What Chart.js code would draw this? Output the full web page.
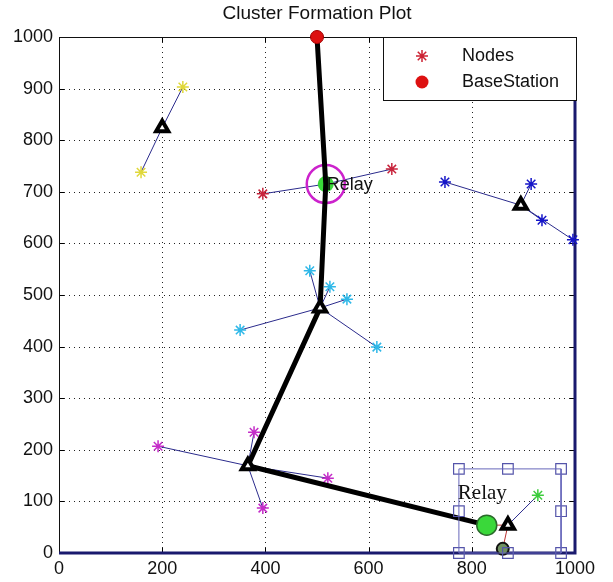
<!DOCTYPE html>
<html>
<head>
<meta charset="utf-8">
<title>Cluster Formation Plot</title>
<script src="https://cdn.jsdelivr.net/npm/chart.js@4.4.0/dist/chart.umd.min.js"></script>
<style>
    html, body { margin: 0; padding: 0; background: #fff; }
    canvas { display: block; }
</style>
</head>
<body>
<canvas id="cluster-chart" width="613" height="582"></canvas>
<script>
// axis ticks
const xTicks = [0, 200, 400, 600, 800, 1000];
const yTicks = [0, 100, 200, 300, 400, 500, 600, 700, 800, 900, 1000];

// sink + relays
const baseStation = [{ x: 500, y: 1000 }];
const topRelay = [{ x: 517, y: 715 }];
const bottomRelay = [{ x: 829, y: 54 }];
const sinkNode = [{ x: 860, y: 8 }];

// clusters: head + member nodes
const yellowHead = [{ x: 200, y: 824 }];
const yellowNodes = [{ x: 240, y: 903 }, { x: 159, y: 738 }];
const redNodes = [{ x: 395, y: 696 }, { x: 645, y: 744 }];
const blueHead = [{ x: 895, y: 674 }];
const blueNodes = [{ x: 748, y: 719 }, { x: 915, y: 715 }, { x: 936, y: 645 }, { x: 996, y: 607 }];
const cyanHead = [{ x: 506, y: 475 }];
const cyanNodes = [{ x: 486, y: 547 }, { x: 525, y: 516 }, { x: 558, y: 492 }, { x: 351, y: 432 }, { x: 616, y: 399 }];
const magentaHead = [{ x: 366, y: 169 }];
const magentaNodes = [{ x: 192, y: 207 }, { x: 378, y: 234 }, { x: 521, y: 145 }, { x: 395, y: 87 }];
const greenHead = [{ x: 870, y: 54 }];
const greenNodes = [{ x: 928, y: 112 }];

// multi-hop route to the base station
const routePath = [baseStation[0], topRelay[0], cyanHead[0], magentaHead[0], bottomRelay[0]];

// figure-editor selection box around the lower relay
const selectionBox = [{ x: 775, y: 163 }, { x: 973, y: 163 }, { x: 973, y: 0 }, { x: 775, y: 0 }, { x: 775, y: 163 }];
const selectionHandles = [
    { x: 775, y: 163 }, { x: 870, y: 163 }, { x: 973, y: 163 },
    { x: 775, y: 81 }, { x: 973, y: 81 },
    { x: 775, y: 0 }, { x: 870, y: 0 }, { x: 973, y: 0 }
];

const relayLabels = [
    { x: 519, y: 713, text: 'Relay', font: '18px Arial, "Liberation Sans", sans-serif' },
    { x: 773, y: 116, text: 'Relay', font: '21px "Times New Roman", "Liberation Serif", serif' }
];

const EDGE_BLUE = '#2b2b8c';
const EDGE_RED = '#b83030';

function edgeSets(head, nodes, color) {
    return nodes.map(n => ({
        data: [head[0], n],
        showLine: true,
        borderColor: color,
        borderWidth: 1,
        pointRadius: 0,
        clip: false,
        order: 6
    }));
}

function markerSet(data, style, color, opts = {}) {
    return Object.assign({
        data: data,
        pointStyle: style,
        pointRadius: 6,
        pointBorderColor: color,
        borderColor: color,
        pointBackgroundColor: color,
        backgroundColor: color,
        pointBorderWidth: 1.5,
        showLine: false,
        clip: false,
        order: 5
    }, opts);
}

function drawStar(ctx, x, y, r, color) {
    ctx.save();
    ctx.strokeStyle = color;
    ctx.lineWidth = 1.5;
    ctx.beginPath();
    ctx.moveTo(x - r, y); ctx.lineTo(x + r, y);
    ctx.moveTo(x, y - r); ctx.lineTo(x, y + r);
    const d = r * Math.SQRT1_2;
    ctx.moveTo(x - d, y - d); ctx.lineTo(x + d, y + d);
    ctx.moveTo(x - d, y + d); ctx.lineTo(x + d, y - d);
    ctx.stroke();
    ctx.restore();
}

const figurePlugin = {
    id: 'figure',
    beforeDatasetsDraw(chart) {
        const { ctx, chartArea: a, scales: { x, y } } = chart;
        ctx.save();
        // dotted grid
        ctx.strokeStyle = '#222';
        ctx.lineWidth = 1;
        ctx.setLineDash([1, 4]);
        xTicks.slice(1, -1).forEach(v => {
            const px = Math.round(x.getPixelForValue(v)) + 0.5;
            ctx.beginPath(); ctx.moveTo(px, a.top); ctx.lineTo(px, a.bottom); ctx.stroke();
        });
        yTicks.slice(1, -1).forEach(v => {
            const py = Math.round(y.getPixelForValue(v)) + 0.5;
            ctx.beginPath(); ctx.moveTo(a.left, py); ctx.lineTo(a.right, py); ctx.stroke();
        });
        ctx.setLineDash([]);

        // inward tick marks
        ctx.strokeStyle = '#000';
        xTicks.forEach(v => {
            const px = Math.round(x.getPixelForValue(v)) + 0.5;
            ctx.beginPath();
            ctx.moveTo(px, a.bottom); ctx.lineTo(px, a.bottom - 5);
            ctx.moveTo(px, a.top); ctx.lineTo(px, a.top + 5);
            ctx.stroke();
        });
        yTicks.forEach(v => {
            const py = Math.round(y.getPixelForValue(v)) + 0.5;
            ctx.beginPath();
            ctx.moveTo(a.left, py); ctx.lineTo(a.left + 5, py);
            ctx.moveTo(a.right, py); ctx.lineTo(a.right - 5, py);
            ctx.stroke();
        });

        // box: black left/top, navy right/bottom
        ctx.strokeStyle = '#111';
        ctx.lineWidth = 1;
        ctx.beginPath();
        ctx.moveTo(a.left + 0.5, a.bottom); ctx.lineTo(a.left + 0.5, a.top + 0.5); ctx.lineTo(a.right, a.top + 0.5);
        ctx.stroke();
        ctx.strokeStyle = '#1a1a6e';
        ctx.lineWidth = 3;
        ctx.beginPath();
        ctx.moveTo(a.left, a.bottom); ctx.lineTo(a.right, a.bottom); ctx.lineTo(a.right, a.top);
        ctx.stroke();
        ctx.restore();
    },
    afterDatasetsDraw(chart) {
        const { ctx, chartArea: a, scales: { x, y } } = chart;
        ctx.save();
        // relay labels
        ctx.fillStyle = '#111';
        ctx.textAlign = 'left';
        ctx.textBaseline = 'middle';
        relayLabels.forEach(l => {
            ctx.font = l.font;
            ctx.fillText(l.text, x.getPixelForValue(l.x), y.getPixelForValue(l.y));
        });

        // title
        ctx.font = '19px Arial, "Liberation Sans", sans-serif';
        ctx.textAlign = 'center';
        ctx.textBaseline = 'alphabetic';
        ctx.fillStyle = '#111';
        ctx.fillText('Cluster Formation Plot', (a.left + a.right) / 2, 19);

        // legend box in the upper right corner
        const lx = 383, ly = a.top, lw = 193, lh = 63;
        ctx.fillStyle = '#fff';
        ctx.fillRect(lx, ly, lw, lh);
        ctx.strokeStyle = '#111';
        ctx.lineWidth = 1;
        ctx.strokeRect(lx + 0.5, ly + 0.5, lw, lh);
        drawStar(ctx, lx + 39, ly + 19, 6, '#cc2233');
        ctx.fillStyle = '#dd1111';
        ctx.beginPath();
        ctx.arc(lx + 39, ly + 45, 6.5, 0, Math.PI * 2);
        ctx.fill();
        ctx.fillStyle = '#111';
        ctx.font = '18px Arial, "Liberation Sans", sans-serif';
        ctx.textAlign = 'left';
        ctx.textBaseline = 'middle';
        ctx.fillText('Nodes', lx + 79, ly + 19);
        ctx.fillText('BaseStation', lx + 79, ly + 45);
        ctx.restore();
    }
};

const datasets = [
    // thin cluster edges
    ...edgeSets(yellowHead, yellowNodes, EDGE_BLUE),
    ...edgeSets(topRelay, redNodes, EDGE_BLUE),
    ...edgeSets(blueHead, blueNodes, EDGE_BLUE),
    ...edgeSets(cyanHead, cyanNodes, EDGE_BLUE),
    ...edgeSets(magentaHead, magentaNodes, EDGE_BLUE),
    ...edgeSets(greenHead, greenNodes, EDGE_BLUE),
    ...edgeSets(greenHead, bottomRelay, EDGE_RED),
    ...edgeSets(greenHead, sinkNode, EDGE_RED),

    // member nodes
    markerSet(yellowNodes, 'star', '#e0d83a'),
    markerSet(redNodes, 'star', '#c8243c'),
    markerSet(blueNodes, 'star', '#1515c8'),
    markerSet(cyanNodes, 'star', '#2fb8e8'),
    markerSet(magentaNodes, 'star', '#c42cc8'),
    markerSet(greenNodes, 'star', '#3ccc3c'),

    // top relay with magenta ring
    markerSet(topRelay, 'circle', '#3ad83a', { pointRadius: 8, pointBorderWidth: 0, order: 4 }),
    markerSet(topRelay, 'circle', '#cc22cc', { pointRadius: 19, pointBorderWidth: 2.5, pointBackgroundColor: 'rgba(0,0,0,0)', backgroundColor: 'rgba(0,0,0,0)', order: 4 }),

    // route to base station
    {
        data: routePath,
        showLine: true,
        borderColor: '#000',
        borderWidth: 5,
        borderCapStyle: 'round',
        borderJoinStyle: 'round',
        pointRadius: 0,
        clip: false,
        order: 3
    },

    // cluster heads
    markerSet([...yellowHead, ...blueHead, ...cyanHead, ...magentaHead, ...greenHead], 'triangle', '#000',
        { pointRadius: 7, pointBorderWidth: 4, pointBackgroundColor: '#fff', backgroundColor: '#fff', order: 2 }),

    // lower relay and sink
    markerSet(bottomRelay, 'circle', '#3ad83a', { pointRadius: 10, pointBorderWidth: 1.5, pointBorderColor: '#2a6a2a', order: 2 }),
    markerSet(sinkNode, 'circle', '#111', { pointRadius: 6, pointBorderWidth: 2, pointBackgroundColor: '#6f9060', backgroundColor: '#6f9060', order: 2 }),

    // selection box
    {
        data: selectionBox,
        showLine: true,
        borderColor: '#6666bb',
        borderWidth: 1,
        pointRadius: 0,
        clip: false,
        order: 1
    },
    markerSet(selectionHandles, 'rect', '#5555aa', { pointRadius: 7.5, pointBorderWidth: 1.2, pointBackgroundColor: 'rgba(0,0,0,0)', backgroundColor: 'rgba(0,0,0,0)', order: 1 }),

    // base station
    markerSet(baseStation, 'circle', '#dd1111', { pointRadius: 6.5, pointBorderWidth: 1, pointBorderColor: '#a00000', order: 0 })
];

const tickFont = { family: 'Arial, "Liberation Sans", sans-serif', size: 18 };
const plainLabel = v => String(v);

new Chart(document.getElementById('cluster-chart'), {
    type: 'scatter',
    data: { datasets: datasets },
    options: {
        responsive: false,
        animation: false,
        events: [],
        devicePixelRatio: 1,
        layout: { padding: { left: 0, top: 37, right: 38, bottom: 0 } },
        plugins: {
            legend: { display: false },
            tooltip: { enabled: false },
            title: { display: false }
        },
        scales: {
            x: {
                type: 'linear',
                min: 0,
                max: 1000,
                afterBuildTicks: s => { s.ticks = xTicks.map(v => ({ value: v })); },
                afterFit: s => { s.height = 29; },
                grid: { display: false, drawTicks: false },
                border: { display: false },
                ticks: { font: tickFont, color: '#111', padding: 5, maxRotation: 0, callback: plainLabel }
            },
            y: {
                type: 'linear',
                min: 0,
                max: 1000,
                afterBuildTicks: s => { s.ticks = yTicks.map(v => ({ value: v })); },
                afterFit: s => { s.width = 59; },
                grid: { display: false, drawTicks: false },
                border: { display: false },
                ticks: { font: tickFont, color: '#111', padding: 6, callback: plainLabel }
            }
        }
    },
    plugins: [figurePlugin]
});
</script>
</body>
</html>
